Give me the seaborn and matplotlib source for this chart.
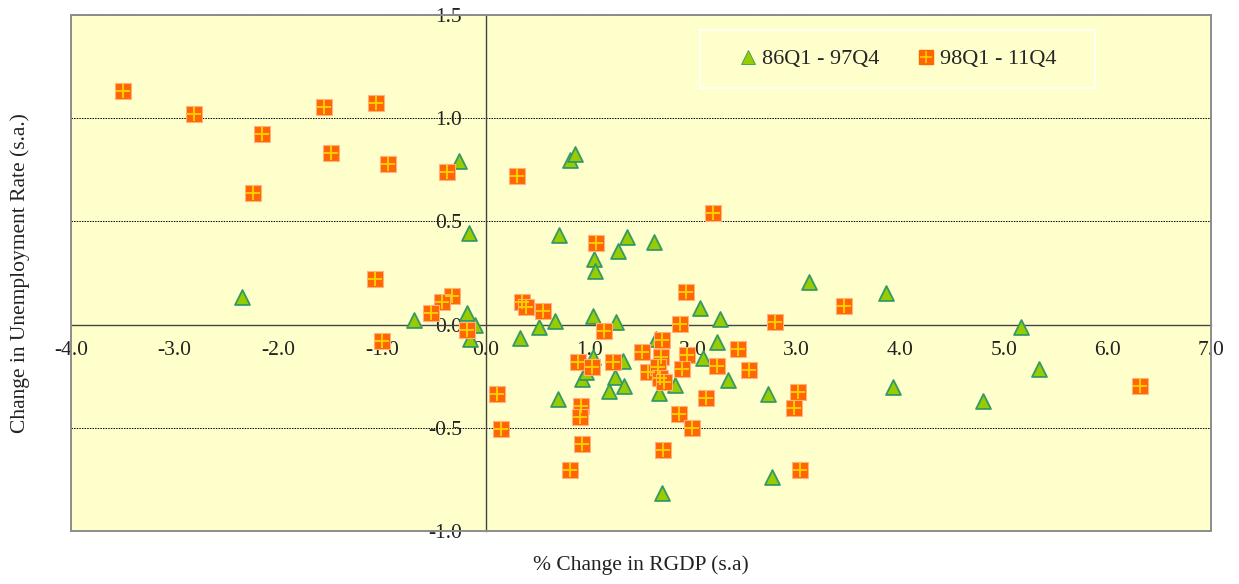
import matplotlib
matplotlib.use("Agg")
import matplotlib.pyplot as plt
from matplotlib.patches import Rectangle
from matplotlib.lines import Line2D
from matplotlib.legend_handler import HandlerTuple
import seaborn as sns
import numpy as np

# ---- data ----
x_8697 = [-2.35, -0.26, -0.16, -0.69, -0.18, -0.10, -0.15,
          0.816, 0.864, 0.706, 1.366, 1.279, 1.623, 1.05, 1.06, 3.12, 3.86,
          2.07, 2.26, 1.035, 1.26, 0.668, 0.516, 0.333, 2.23,
          1.643, 2.097, 1.324, 1.035, 0.928, 0.97, 1.247, 1.334, 1.195,
          1.675, 1.83, 2.338, 2.73, 0.697, 1.70, 2.76, 3.93,
          5.166, 5.34, 4.80]
y_8697 = [0.135, 0.794, 0.445, 0.022, 0.055, 0.0, -0.07,
          0.797, 0.825, 0.434, 0.423, 0.355, 0.399, 0.32, 0.261, 0.208, 0.152,
          0.082, 0.026, 0.042, 0.014, 0.017, -0.013, -0.066, -0.084,
          -0.071, -0.163, -0.176, -0.155, -0.262, -0.228, -0.255, -0.297, -0.322,
          -0.33, -0.293, -0.27, -0.336, -0.36, -0.817, -0.738, -0.3,
          -0.013, -0.215, -0.369]

x_9811 = [-3.50, -2.81, -2.16, -2.24, -1.56, -1.49, -1.06, -0.944, -0.37,
          -1.07, -0.32, -0.417, -0.526, -0.18, -1.0,
          0.304, 2.19, 1.064, 1.93, 3.46, 0.352, 0.39, 0.552, 1.875, 2.79, 1.147,
          1.51, 1.70, 1.69, 1.94, 2.44, 0.89, 1.028, 1.234, 1.571, 1.665, 1.897,
          2.237, 2.546, 1.687, 1.72, 0.111, 2.126, 3.016, 2.975, 0.925, 0.915,
          1.868, 1.99, 0.15, 0.928, 1.713, 0.813, 3.03,
          6.315]
y_9811 = [1.13, 1.02, 0.925, 0.64, 1.056, 0.833, 1.075, 0.778, 0.741,
          0.221, 0.137, 0.108, 0.055, -0.026, -0.08,
          0.72, 0.542, 0.394, 0.156, 0.089, 0.108, 0.084, 0.066, 0.003, 0.011, -0.031,
          -0.131, -0.075, -0.155, -0.147, -0.12, -0.183, -0.207, -0.181, -0.231, -0.204, -0.215,
          -0.2, -0.22, -0.257, -0.28, -0.338, -0.356, -0.327, -0.403, -0.394, -0.45,
          -0.433, -0.502, -0.504, -0.577, -0.607, -0.703, -0.703,
          -0.296]

label_8697 = "86Q1 - 97Q4"
label_9811 = "98Q1 - 11Q4"
x_ticks = [-4.0, -3.0, -2.0, -1.0, 0.0, 1.0, 2.0, 3.0, 4.0, 5.0, 6.0, 7.0]
y_ticks = [-1.0, -0.5, 0.0, 0.5, 1.0, 1.5]
xlabel = "% Change in RGDP (s.a)"
ylabel = "Change in Unemployment Rate (s.a.)"

# ---- style ----
sns.set_style("white")
plt.rcParams["font.family"] = ["Liberation Serif", "DejaVu Serif"]
FS = 15.5
LFS = 16

W, H = 1239, 584
fig = plt.figure(figsize=(W / 100, H / 100), dpi=100)
fig.patch.set_facecolor("white")
L, R, T, B = 71, 1211, 15, 531
ax = fig.add_axes([L / W, 1 - B / H, (R - L) / W, (B - T) / H])
ax.set_facecolor("#FFFFCC")

ax.set_xlim(-4, 7)
ax.set_ylim(-1, 1.5)

GREEN_FILL = "#99CC00"
GREEN_EDGE = "#339966"
ORANGE = "#FF6600"
GOLD = "#FFCC00"

sns.scatterplot(x=x_8697, y=y_8697, marker="^", s=115, color=GREEN_FILL,
                edgecolor=GREEN_EDGE, linewidth=1.3, ax=ax, zorder=3)
sns.scatterplot(x=x_9811, y=y_9811, marker="s", s=135, color=ORANGE,
                edgecolor="#FFB27F", linewidth=0.8, ax=ax, zorder=4)
sns.scatterplot(x=x_9811, y=y_9811, marker="+", s=90, color=GOLD,
                linewidth=1.4, ax=ax, zorder=5)

# gridlines
ax.set_yticks(y_ticks)
ax.set_xticks(x_ticks)
ax.yaxis.grid(True, color="black", linestyle=(0, (1.5, 1.2)), linewidth=0.7)
ax.xaxis.grid(False)
ax.set_axisbelow(True)

# spines crossing at origin
for s in ["top", "right"]:
    ax.spines[s].set_visible(False)
ax.spines["left"].set_position(("data", 0))
ax.spines["bottom"].set_position(("data", 0))
for s in ["left", "bottom"]:
    ax.spines[s].set_color("#444444")
    ax.spines[s].set_linewidth(1.0)
    ax.spines[s].set_zorder(2)

# outer frame
ax.add_patch(Rectangle((0, 0), 1, 1, transform=ax.transAxes, fill=False,
                       edgecolor="#8C8C8C", linewidth=1.4, zorder=6, clip_on=False))

ax.set_xticklabels([f"{v:.1f}" for v in x_ticks])
ax.set_yticklabels([f"{v:.1f}" for v in y_ticks])
ax.tick_params(axis="x", direction="in", length=5, width=1, color="#444444",
               pad=12, labelsize=FS, labelcolor="#222222")
ax.tick_params(axis="y", direction="in", length=5, width=1, color="#444444",
               pad=17, labelsize=FS, labelcolor="#222222")

ax.set_xlabel(xlabel, fontsize=FS, color="#222222")
ax.set_ylabel(ylabel, fontsize=FS, color="#222222")
ax.xaxis.set_label_coords((641 - L) / (R - L), -(555 - B) / (B - T))
ax.yaxis.set_label_coords(-(L - 30) / (R - L), 0.5)

# legend box
bx0, bx1, by0, by1 = 700, 1095, 30, 88
ax.add_patch(Rectangle(((bx0 - L) / (R - L), 1 - (by1 - T) / (B - T)),
                       (bx1 - bx0) / (R - L), (by1 - by0) / (B - T),
                       transform=ax.transAxes, facecolor="#FFFFCC",
                       edgecolor="white", linewidth=1.2, zorder=6.5))

h1 = Line2D([], [], marker="^", linestyle="none", markersize=9.5,
            markerfacecolor=GREEN_FILL, markeredgecolor=GREEN_EDGE, markeredgewidth=0.6)
h2a = Line2D([], [], marker="s", linestyle="none", markersize=9.5,
             markerfacecolor=ORANGE, markeredgecolor=ORANGE)
h2b = Line2D([], [], marker="+", linestyle="none", markersize=9,
             markeredgecolor=GOLD, markeredgewidth=1.2)
leg = ax.legend([h1, (h2a, h2b)], [label_8697, label_9811],
                handler_map={tuple: HandlerTuple(ndivide=1, pad=0)},
                loc="center",
                bbox_to_anchor=((899 - L) / (R - L), 1 - (59 - T) / (B - T)),
                ncol=2, fontsize=LFS, frameon=False,
                handlelength=0.65, handletextpad=0.3, columnspacing=1.78,
                borderpad=0.0, borderaxespad=0)
leg.set_zorder(7)

fig.savefig("out.png", dpi=100, facecolor="white")
